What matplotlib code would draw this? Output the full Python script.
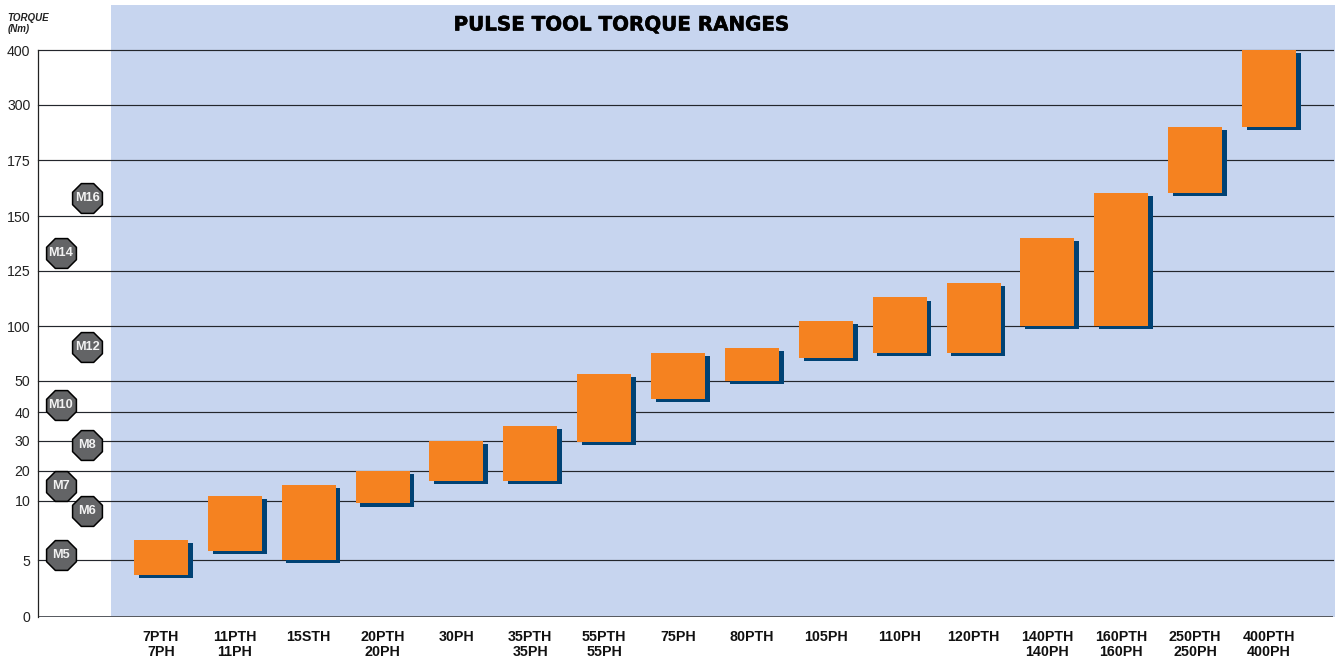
import numpy as np
from matplotlib import pyplot as plt
from matplotlib.transforms import ScaledTranslation
import matplotlib.patheffects as pe

plt.rcParams['font.family'] = ['Liberation Sans', 'DejaVu Sans']

# tool names, bottom and top of every torque range (Nm)
tools = ['7PTH\n7PH', '11PTH\n11PH', '15STH', '20PTH\n20PH', '30PH', '35PTH\n35PH', '55PTH\n55PH', '75PH',
         '80PTH', '105PH', '110PH', '120PTH', '140PTH\n140PH', '160PTH\n160PH', '250PTH\n250PH', '400PTH\n400PH']
low = [3.7, 5.8, 5, 9.8, 16.7, 16.7, 29.7, 44.2, 50, 70.9, 75.5, 75.5, 100, 100, 160.3, 250]
high = [6.7, 11.7, 15.3, 20, 30, 35.2, 56.4, 75.5, 80, 102.3, 113, 119.5, 140, 160.3, 250, 400]

# bolt sizes beside the axis
bolts = ['M16', 'M14', 'M12', 'M10', 'M8', 'M7', 'M6', 'M5']
bolt_torque = [158, 133, 81, 42.3, 28.7, 15, 9.15, 5.4]
bolt_col = [-1.0, -1.354, -1.0, -1.354, -1.0, -1.354, -1.0, -1.354]

# the printed axis is not linear, every tick has its own height
y_ticks = [0, 5, 10, 20, 30, 40, 50, 100, 125, 150, 175, 300, 400]
y_heights = [0, 57, 116, 146, 176, 205, 236, 291, 346, 401, 457, 512, 567]


def forward(v):
    return np.interp(v, y_ticks, y_heights)


def inverse(h):
    return np.interp(h, y_heights, y_ticks)


W, H = 1335, 659
fig = plt.figure(figsize=(W / 100, H / 100), dpi=100)
ax = fig.add_axes([38 / W, 1 - 617 / H, 1295 / W, 567 / H])
ax.set_yscale('function', functions=(forward, inverse))
ax.set_ylim(0, 400)
ax.set_xlim(-1.665, 15.866)
ax.patch.set_alpha(0)

# blue panel runs past the top of the axes, up behind the title
ax.add_patch(plt.Rectangle((73 / 1295, 0), 1 - 73 / 1295 + 2 / 1295, 612 / 567, transform=ax.transAxes,
                           facecolor='#c7d5ef', edgecolor='none', clip_on=False, zorder=0))

for t in y_ticks[1:]:
    ax.axhline(t, color='#23262c', lw=0.85, zorder=1, clip_on=False)
ax.axhline(0, color='#55585e', lw=1.4, zorder=1)

x = np.arange(len(tools))
heights = np.array(high) - np.array(low)
shadow = ax.transData + ScaledTranslation(4.7 / 100, -3.2 / 100, fig.dpi_scale_trans)
ax.bar(x, heights, bottom=low, width=0.731, color='#004274', transform=shadow, zorder=2, clip_on=False)
ax.bar(x, heights, bottom=low, width=0.731, color='#f58220', zorder=3, clip_on=False)

ax.scatter(bolt_col, bolt_torque, s=540, marker='8', color='#636466', edgecolors='black', linewidths=1.1,
           zorder=4, clip_on=False)
for name, c, t in zip(bolts, bolt_col, bolt_torque):
    ax.text(c, t, name, color='#f2f2f2', fontsize=9.2, fontweight='bold', ha='center', va='center', zorder=5)

for s in ['top', 'right', 'bottom']:
    ax.spines[s].set_visible(False)
ax.spines['left'].set_linewidth(0.9)
ax.spines['left'].set_color('#222222')

ax.set_yticks(y_ticks)
ax.set_yticklabels([str(t) for t in y_ticks], fontsize=10.2, color='#222222')
ax.yaxis.set_minor_locator(plt.NullLocator())
ax.tick_params(axis='y', length=0, pad=5.5)

ax.set_xticks(x)
ax.set_xticklabels(tools, fontsize=10.3, fontweight='bold', linespacing=1.05, color='#111111')
ax.tick_params(axis='x', length=0, pad=9.5)

fig.text(7.5 / W, 1 - 18 / H, 'TORQUE', fontsize=7, fontweight='bold', style='italic', va='center', color='#222222')
fig.text(7.5 / W, 1 - 29 / H, '(Nm)', fontsize=7, fontweight='bold', style='italic', va='center', color='#222222')

title = fig.text(622 / W, 1 - 25 / H, 'PULSE TOOL TORQUE RANGES',
                 fontsize=14.3, fontweight='bold', ha='center', va='center', color='black',
                 family=['DejaVu Sans'])
title.set_path_effects([pe.withStroke(linewidth=0.4, foreground='black')])

fig.savefig('out.png', dpi=100)
